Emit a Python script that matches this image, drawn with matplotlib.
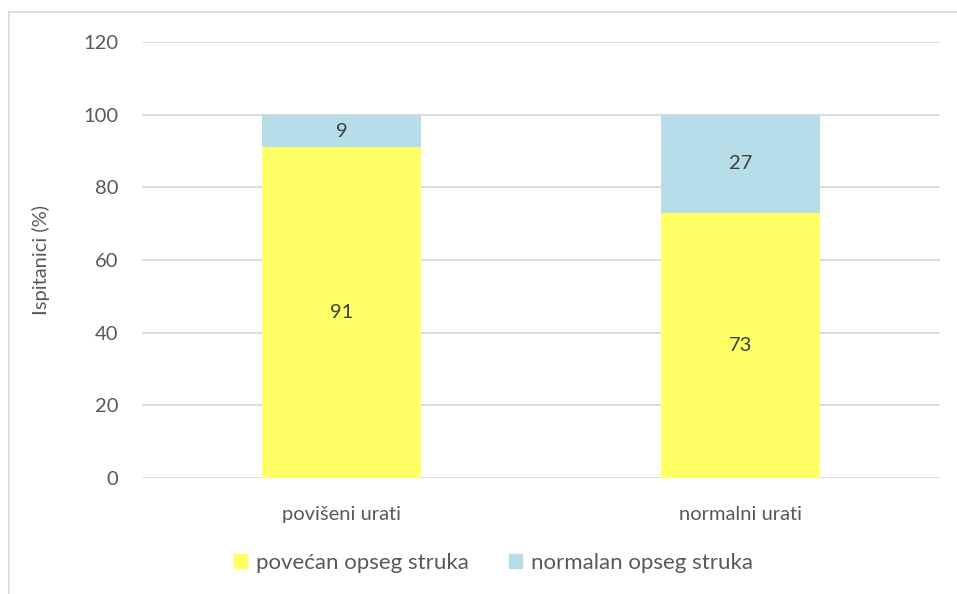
import matplotlib.pyplot as plt
from matplotlib.lines import Line2D
from matplotlib.patches import Patch

categories = ['povišeni urati', 'normalni urati']
povecan = [91, 73]
normalan = [9, 27]
series_names = ['povećan opseg struka', 'normalan opseg struka']

yellow = '#FFFF66'
blue = '#B7DDE8'
text_col = '#595959'

plt.rcParams['font.family'] = ['Lato', 'DejaVu Sans']

fig = plt.figure(figsize=(9.57, 5.94), dpi=100)
ax = fig.add_axes([142 / 957, 1 - 478 / 594, 798 / 957, 436 / 594])

x = range(len(categories))
ax.bar(x, povecan, width=0.4, color=yellow, zorder=3)
ax.bar(x, normalan, width=0.4, bottom=povecan, color=blue, zorder=3)

for i in x:
    ax.text(i, povecan[i] / 2, str(povecan[i]), ha='center', va='center',
            fontsize=14.5, color='#404040', zorder=4)
    ax.text(i, povecan[i] + normalan[i] / 2, str(normalan[i]), ha='center',
            va='center', fontsize=14.5, color='#404040', zorder=4)

ax.set_xlim(-0.5, 1.5)
ax.set_ylim(0, 120)
ax.set_yticks(range(0, 121, 20))
ax.set_xticks(list(x))
ax.set_xticklabels(categories)
ax.grid(axis='y', color='#D9D9D9', linewidth=1.3, zorder=0)
for s in ax.spines.values():
    s.set_visible(False)
ax.tick_params(axis='both', length=0, labelsize=14.5, colors=text_col)
ax.tick_params(axis='y', pad=17)
ax.tick_params(axis='x', pad=20)
ax.set_ylabel('Ispitanici (%)', fontsize=14.5, color=text_col, labelpad=24)

handles = [Patch(color=yellow), Patch(color=blue)]
fig.legend(handles, series_names, loc='center', bbox_to_anchor=(0.5157, 1 - 563 / 594),
           ncol=2, frameon=False, fontsize=16, labelcolor=text_col,
           handlelength=0.6, handleheight=0.6, handletextpad=0.4, columnspacing=1.8)

# outer chart border (left and top edges visible)
fig.add_artist(Line2D([9 / 957, 9 / 957], [0, 1 - 12 / 594], color='#D9D9D9',
                      linewidth=1.2, transform=fig.transFigure))
fig.add_artist(Line2D([9 / 957, 1], [1 - 12 / 594, 1 - 12 / 594], color='#D9D9D9',
                      linewidth=1.2, transform=fig.transFigure))

fig.savefig('out.png', dpi=100)
